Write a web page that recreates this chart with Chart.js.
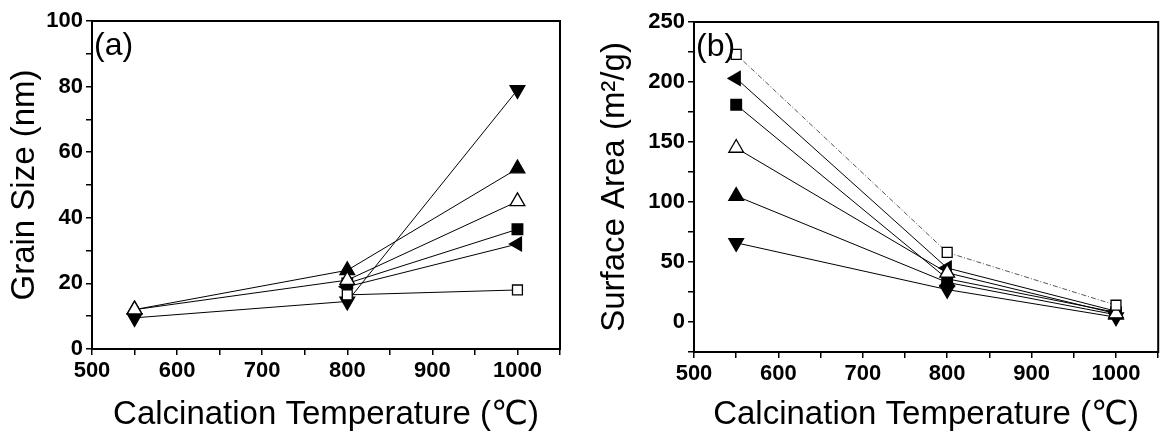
<!DOCTYPE html>
<html><head><meta charset="utf-8">
<script src="https://cdn.jsdelivr.net/npm/chart.js@4.4.1/dist/chart.umd.min.js"></script>
<style>
html,body{margin:0;padding:0;background:#fff;width:1168px;height:440px;overflow:hidden}
#wa{position:absolute;left:0;top:0;width:580px;height:440px}
#wb{position:absolute;left:580px;top:0;width:588px;height:440px}
</style></head><body>
<div id="wa"><canvas id="ca"></canvas></div>
<div id="wb"><canvas id="cb"></canvas></div>
<script>
// ---- data ----
const temps = [550, 800, 1000];
const xTickLabels = [500, 600, 700, 800, 900, 1000];
const grainTickLabels = [0, 20, 40, 60, 80, 100];
const areaTickLabels = [0, 50, 100, 150, 200, 250];

// (a) Grain size (nm)
const grainOpenSquare = [null, 16.5, 18];
const grainLeftTri    = [null, 19, 32];
const grainSquare     = [null, 20, 36.5];
const grainOpenTri    = [12, 21, 45];
const grainUpTri      = [12, 24, 55];
const grainDownTri    = [9.5, 14.5, 79];

// (b) Surface area (m2/g)
const areaOpenSquare = [223, 58, 14];
const areaLeftTri    = [203, 45, 9];
const areaSquare     = [181, 36, 8];
const areaOpenTri    = [145, 41, 7];
const areaUpTri      = [105, 33, 6];
const areaDownTri    = [66, 27, 4];

const FONT = "'Liberation Sans', Arial, 'DejaVu Sans', sans-serif";

const markers = {
  openSquare: {pointStyle: 'rect', rot: 0, fill: '#fff', r: 7},
  leftTri:    {pointStyle: 'triangle', rot: 270, fill: '#000', r: 8},
  square:     {pointStyle: 'rect', rot: 0, fill: '#000', r: 7.5},
  openTri:    {pointStyle: 'triangle', rot: 0, fill: '#fff', r: 8.5},
  upTri:      {pointStyle: 'triangle', rot: 0, fill: '#000', r: 8.5},
  downTri:    {pointStyle: 'triangle', rot: 180, fill: '#000', r: 8.5}
};

function ds(label, values, mk, dash) {
  const m = markers[mk];
  return {
    label: label,
    data: temps.map((t, i) => ({x: t, y: values[i]})),
    borderColor: dash ? '#555' : '#000',
    borderWidth: 1,
    borderDash: dash || [],
    pointStyle: m.pointStyle,
    pointRotation: m.rot,
    pointRadius: m.r,
    pointHoverRadius: m.r,
    pointBackgroundColor: m.fill,
    pointBorderColor: '#000',
    pointBorderWidth: 1.3,
    fill: false,
    tension: 0,
    spanGaps: false
  };
}

const framePlugin = {
  id: 'frame',
  afterDraw(chart, args, opts) {
    const {ctx, chartArea: a} = chart;
    ctx.save();
    ctx.strokeStyle = '#000';
    ctx.lineWidth = 2;
    ctx.strokeRect(a.left, a.top, a.right - a.left, a.bottom - a.top);
    ctx.fillStyle = '#000';
    ctx.font = '32px ' + FONT;
    ctx.textBaseline = 'middle';
    ctx.textAlign = 'left';
    ctx.fillText(opts.label, a.left + 2, a.top + 25);
    ctx.restore();
  }
};

function makeChart(id, cfg) {
  return new Chart(document.getElementById(id), {
    type: 'line',
    data: {datasets: cfg.datasets},
    plugins: [framePlugin],
    options: {
      responsive: true,
      maintainAspectRatio: false,
      animation: false,
      devicePixelRatio: 1,
      layout: {padding: {top: cfg.padTop, right: cfg.padRight, left: 0, bottom: 0}},
      plugins: {legend: {display: false}, tooltip: {enabled: false}, frame: {label: cfg.label}},
      scales: {
        x: {
          type: 'linear', min: 500, max: 1050,
          afterFit: s => { s.height = cfg.xAxisHeight; },
          ticks: {
            stepSize: 50, autoSkip: false, maxRotation: 0, padding: 3, color: '#000',
            font: {family: FONT, size: 22, weight: 'bold'},
            callback: v => xTickLabels.includes(v) ? String(v) : ''
          },
          grid: {drawOnChartArea: false, drawTicks: true, tickLength: 6, color: '#000', lineWidth: 1.5},
          border: {display: true, color: '#000', width: 2},
          title: {display: true, text: 'Calcination Temperature (℃)', color: '#000',
                  font: {family: FONT, size: 33}, padding: {top: 0, bottom: 5}}
        },
        y: {
          type: 'linear', min: cfg.yMin, max: cfg.yMax,
          afterFit: s => { s.width = cfg.yAxisWidth; },
          ticks: {
            stepSize: cfg.yStep, autoSkip: false, padding: 3, color: '#000',
            font: {family: FONT, size: 22, weight: 'bold'},
            callback: v => cfg.yLabels.includes(v) ? String(v) : ''
          },
          grid: {drawOnChartArea: false, drawTicks: true, tickLength: 6, color: '#000', lineWidth: 1.5},
          border: {display: true, color: '#000', width: 2},
          title: {display: true, text: cfg.yTitle, color: '#000',
                  font: {family: FONT, size: 33}, padding: {top: cfg.yTitlePad, bottom: 0}}
        }
      }
    }
  });
}

makeChart('ca', {
  label: '(a)', padTop: 21, padRight: 20, xAxisHeight: 91, yAxisWidth: 92,
  yMin: 0, yMax: 100, yStep: 10, yLabels: grainTickLabels,
  yTitle: 'Grain Size (nm)', yTitlePad: 5,
  datasets: [
    ds('open square', grainOpenSquare, 'openSquare'),
    ds('open triangle', grainOpenTri, 'openTri'),
    ds('down triangle', grainDownTri, 'downTri'),
    ds('square', grainSquare, 'square'),
    ds('left triangle', grainLeftTri, 'leftTri'),
    ds('up triangle', grainUpTri, 'upTri')
  ]
});

makeChart('cb', {
  label: '(b)', padTop: 22, padRight: 0, xAxisHeight: 88, yAxisWidth: 114,
  yMin: -25, yMax: 250, yStep: 25, yLabels: areaTickLabels,
  yTitle: 'Surface Area (m²/g)', yTitlePad: 15,
  datasets: [
    ds('open square', areaOpenSquare, 'openSquare', [5, 2, 1, 2]),
    ds('open triangle', areaOpenTri, 'openTri'),
    ds('left triangle', areaLeftTri, 'leftTri'),
    ds('square', areaSquare, 'square'),
    ds('up triangle', areaUpTri, 'upTri'),
    ds('down triangle', areaDownTri, 'downTri')
  ]
});
</script>
</body></html>
